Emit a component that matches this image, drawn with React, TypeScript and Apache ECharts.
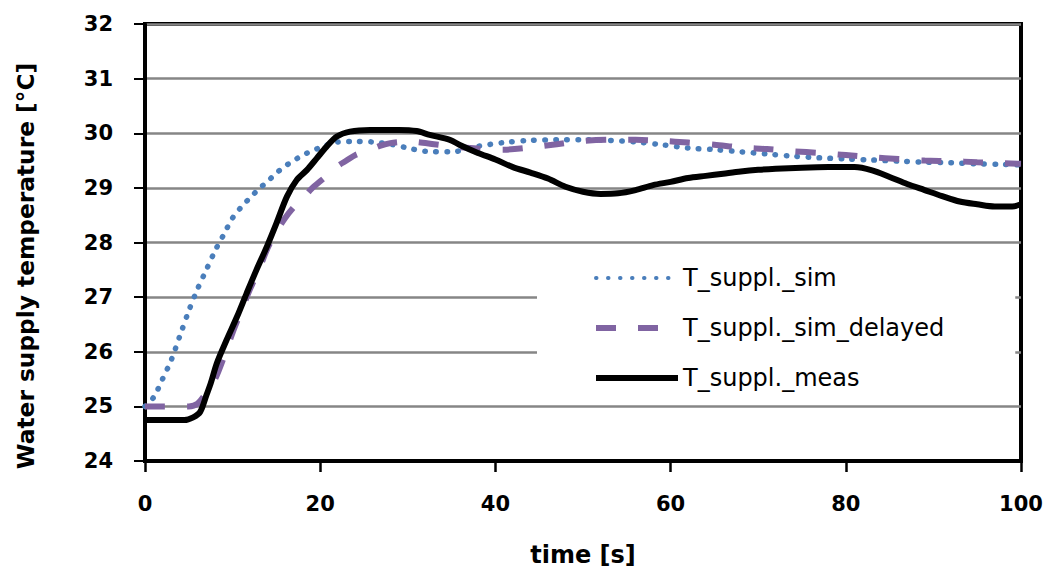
import React, { useEffect, useRef } from "react";
import * as echarts from "echarts";

const seriesNames = ["T_suppl._sim", "T_suppl._sim_delayed", "T_suppl._meas"];

const simT = [0, 1, 2, 3, 4, 5, 6, 7, 8, 9, 10, 11, 12, 13, 14, 15, 16, 17, 18, 19, 20, 21, 22, 24, 26, 28, 30, 32, 35, 38, 41, 44, 47, 50, 53, 56, 59, 62, 65, 68, 71, 74, 77, 80, 83, 86, 89, 92, 95, 98, 100];
const simV = [25.0, 25.17, 25.5, 25.85, 26.3, 26.75, 27.15, 27.5, 27.85, 28.15, 28.45, 28.65, 28.82, 28.98, 29.12, 29.27, 29.4, 29.5, 29.6, 29.67, 29.74, 29.8, 29.84, 29.85, 29.84, 29.8, 29.73, 29.67, 29.66, 29.76, 29.83, 29.87, 29.88, 29.88, 29.87, 29.84, 29.79, 29.73, 29.7, 29.66, 29.62, 29.58, 29.55, 29.53, 29.51, 29.49, 29.47, 29.46, 29.44, 29.43, 29.42];

const delT = [0, 2, 4, 5, 6, 7, 8, 9, 10, 11, 12, 13, 14, 15, 16, 17, 18, 19, 20, 21, 22, 23, 24, 25, 26, 27, 28, 29, 30, 31, 33, 35, 38, 41, 44, 47, 50, 53, 56, 59, 62, 65, 68, 71, 74, 77, 80, 83, 86, 89, 92, 95, 98, 100];
const delV = [25.0, 25.0, 25.0, 25.0, 25.05, 25.25, 25.5, 25.9, 26.35, 26.75, 27.15, 27.5, 27.9, 28.2, 28.45, 28.65, 28.8, 28.98, 29.12, 29.25, 29.4, 29.5, 29.6, 29.66, 29.72, 29.78, 29.82, 29.84, 29.85, 29.84, 29.8, 29.76, 29.72, 29.7, 29.74, 29.8, 29.86, 29.88, 29.88, 29.86, 29.83, 29.79, 29.74, 29.71, 29.67, 29.64, 29.6, 29.56, 29.53, 29.5, 29.49, 29.47, 29.45, 29.44];

const measT = [0, 2, 4.5, 5.5, 6.3, 7, 7.5, 8.2, 9.3, 10.5, 11.6, 12.7, 13.9, 15, 16.2, 17.3, 18.5, 19.6, 20.7, 21.9, 23.4, 25.7, 29, 31, 32.5, 34.8, 36, 38, 40, 42, 44, 46, 48, 50, 52, 54, 56, 58, 60, 62, 64, 66, 68, 70, 72, 75, 78, 81, 83, 85, 87, 89, 91, 93, 95, 97, 99, 100];
const measV = [24.75, 24.75, 24.75, 24.8, 24.9, 25.2, 25.42, 25.79, 26.21, 26.64, 27.07, 27.49, 27.92, 28.35, 28.84, 29.14, 29.33, 29.54, 29.75, 29.94, 30.03, 30.06, 30.06, 30.04, 29.97, 29.88, 29.78, 29.64, 29.52, 29.38, 29.28, 29.17, 29.02, 28.93, 28.89, 28.9, 28.96, 29.05, 29.11, 29.18, 29.22, 29.26, 29.3, 29.33, 29.35, 29.37, 29.38, 29.38, 29.32, 29.2, 29.07, 28.96, 28.85, 28.75, 28.7, 28.66, 28.66, 28.7];

const xTicks = { min: 0, max: 100, interval: 20 };
const yTicks = { min: 24, max: 32, interval: 1 };

const zip = (t: number[], v: number[]) => t.map((x, i) => [x, v[i]]);

export default function App() {
  const ref = useRef<HTMLDivElement>(null);
  useEffect(() => {
    if (!ref.current) return;
    const chart = echarts.init(ref.current, undefined, { renderer: "svg" });
    const labelFont = "DejaVu Sans";
    chart.setOption({
      animation: false,
      backgroundColor: "#ffffff",
      grid: {
        left: 145,
        right: 27,
        top: 24,
        bottom: 115,
        show: true,
        borderColor: "#000000",
        borderWidth: 4,
        backgroundColor: "transparent",
      },
      legend: {
        orient: "vertical",
        left: 537,
        top: 250,
        padding: [16, 71, 10, 56],
        backgroundColor: "#ffffff",
        itemWidth: 82,
        itemHeight: 24,
        itemGap: 26,
        data: [
          { name: seriesNames[0], lineStyle: { width: 4, type: [0.5, 11.5], cap: "round", color: "#4a7ebb" } },
          { name: seriesNames[1], lineStyle: { width: 6, type: [20, 22], cap: "butt", color: "#8064a2" } },
          { name: seriesNames[2], lineStyle: { width: 6, type: "solid", color: "#000000" } },
        ],
        itemStyle: { opacity: 0 },
        textStyle: {
          fontFamily: labelFont,
          fontSize: 24,
          color: "#000000",
        },
      },
      xAxis: {
        type: "value",
        min: xTicks.min,
        max: xTicks.max,
        interval: xTicks.interval,
        name: "time [s]",
        nameLocation: "middle",
        nameGap: 82,
        nameTextStyle: { fontFamily: labelFont, fontWeight: "bold", fontSize: 24, color: "#000" },
        axisLine: { show: true, lineStyle: { color: "#000", width: 3 } },
        axisTick: { show: true, length: 11, lineStyle: { color: "#000", width: 2.5 } },
        axisLabel: { fontFamily: labelFont, fontWeight: "bold", fontSize: 21, color: "#000", margin: 32 },
        splitLine: { show: false },
      },
      yAxis: {
        type: "value",
        min: yTicks.min,
        max: yTicks.max,
        interval: yTicks.interval,
        name: "Water supply temperature [°C]",
        nameLocation: "middle",
        nameGap: 108,
        nameTextStyle: {
          fontFamily: labelFont,
          fontWeight: "bold",
          fontSize: 23.3,
          color: "#000",
          padding: [0, 47, 0, 0],
        },
        axisLine: { show: true, lineStyle: { color: "#000", width: 3 } },
        axisTick: { show: true, length: 11, lineStyle: { color: "#000", width: 2 } },
        axisLabel: { fontFamily: labelFont, fontWeight: "bold", fontSize: 21, color: "#000", margin: 32 },
        splitLine: { show: true, lineStyle: { color: "#868686", width: 2.5 } },
      },
      series: [
        {
          name: seriesNames[0],
          type: "line",
          data: zip(simT, simV),
          symbol: "none",
          smooth: 0.3,
          color: "#4a7ebb",
          lineStyle: { color: "#4a7ebb", width: 5.5, type: [0.5, 10.5], cap: "round" },
          z: 3,
        },
        {
          name: seriesNames[1],
          type: "line",
          data: zip(delT, delV),
          symbol: "none",
          smooth: 0.3,
          color: "#8064a2",
          lineStyle: { color: "#8064a2", width: 6, type: [20, 22], cap: "butt" },
          z: 4,
        },
        {
          name: seriesNames[2],
          type: "line",
          data: zip(measT, measV),
          symbol: "none",
          smooth: 0.3,
          color: "#000000",
          lineStyle: { color: "#000000", width: 6 },
          z: 5,
        },
      ],
    });
    return () => chart.dispose();
  }, []);
  return <div ref={ref} style={{ width: 1048, height: 576, position: "absolute", left: 0, top: 0 }} />;
}
